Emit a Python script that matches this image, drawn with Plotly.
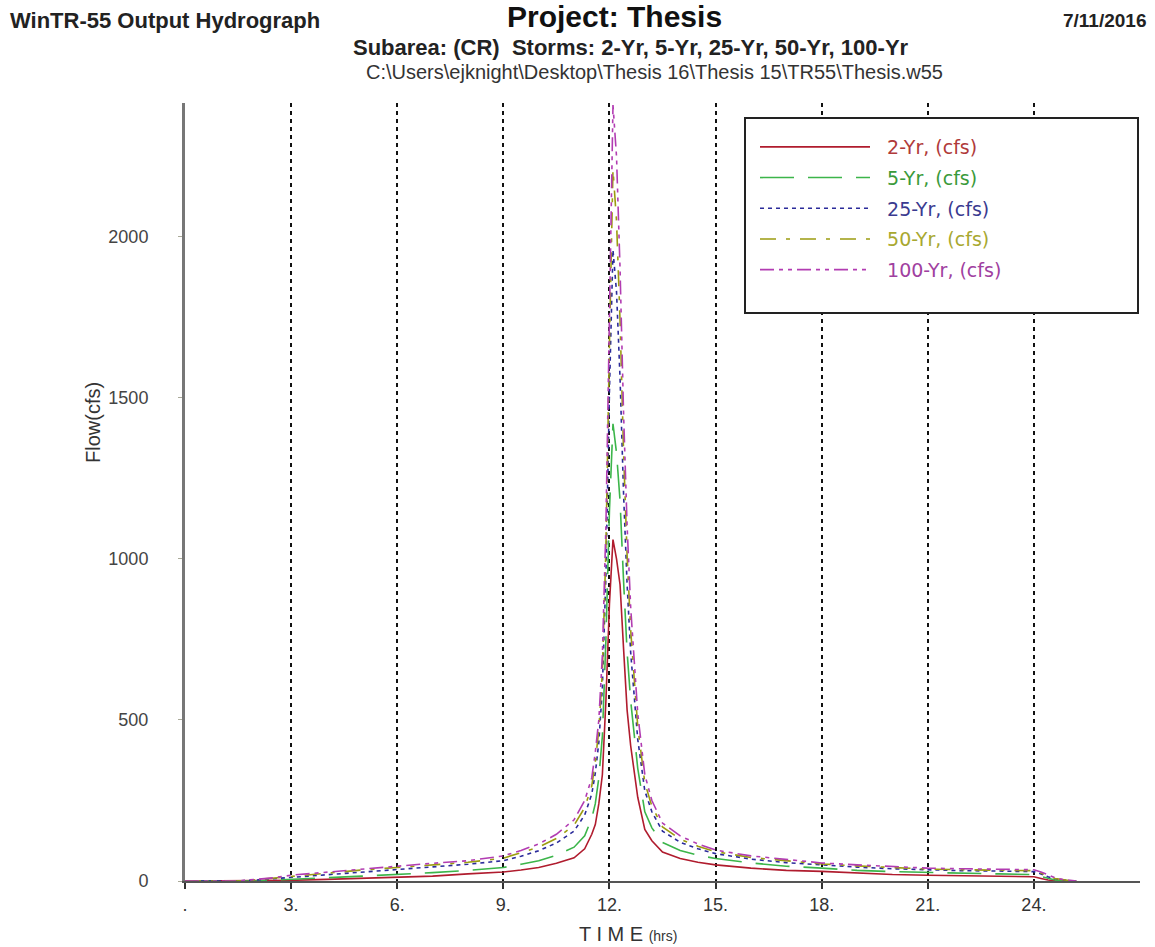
import plotly.graph_objects as go

# Hydrograph time ordinates (hrs)
time_hrs = [0.0, 1.0, 1.5, 2.0, 2.5, 3.0, 4.0, 5.0, 6.0, 7.0, 8.0, 9.0, 9.5, 10.0,
            10.5, 11.0, 11.3, 11.5, 11.6, 11.7, 11.8, 11.9, 12.0, 12.1, 12.2, 12.3,
            12.4, 12.5, 12.6, 12.8, 13.0, 13.2, 13.5, 14.0, 14.5, 15.0, 16.0, 17.0,
            18.0, 19.0, 20.0, 21.0, 22.0, 23.0, 24.0, 24.2, 24.4, 24.6, 24.8, 25.0, 25.2]

# Flow (cfs) for each storm
flow_2yr = [0, 0, 0, 0, 0, 2, 5, 8, 10, 15, 22, 28, 34, 42,
            55, 72, 100, 145, 175, 240, 330, 560, 860, 1060, 1000, 920,
            720, 530, 420, 260, 160, 125, 90, 70, 58, 50, 40, 33,
            30, 24, 20, 18, 17, 15, 13, 8, 3, 1, 0, 0, 0]
flow_5yr = [0, 0, 0, 0, 3, 6, 10, 15, 20, 26, 33, 42, 52, 63,
            80, 105, 140, 195, 240, 320, 450, 750, 1150, 1420, 1330, 1180,
            930, 710, 560, 350, 215, 165, 120, 95, 80, 70, 56, 46,
            40, 33, 29, 26, 24, 22, 20, 14, 7, 3, 1, 0, 0]
flow_25yr = [0, 0, 0, 3, 7, 13, 21, 29, 36, 44, 52, 63, 77, 94,
             118, 155, 205, 270, 335, 430, 600, 950, 1520, 1960, 1830, 1560,
             1200, 920, 710, 440, 280, 215, 155, 120, 100, 85, 68, 57,
             49, 43, 38, 34, 32, 31, 29, 22, 13, 7, 3, 1, 0]
flow_50yr = [0, 0, 0, 4, 9, 16, 25, 34, 42, 50, 58, 71, 87, 105,
             132, 173, 228, 295, 370, 470, 650, 1030, 1670, 2210, 2050, 1740,
             1330, 1010, 780, 480, 305, 232, 168, 130, 108, 91, 73, 62,
             53, 47, 42, 37, 35, 34, 32, 25, 15, 8, 4, 1, 0]
flow_100yr = [0, 0, 0, 5, 10, 18, 28, 38, 46, 55, 63, 78, 95, 115,
              145, 190, 250, 320, 400, 500, 700, 1100, 1800, 2410, 2250, 1900,
              1450, 1100, 850, 520, 330, 250, 180, 140, 115, 96, 78, 66,
              56, 50, 45, 40, 38, 37, 35, 28, 18, 10, 5, 2, 0]

storm_names = ["2-Yr, (cfs)", "5-Yr, (cfs)", "25-Yr, (cfs)", "50-Yr, (cfs)", "100-Yr, (cfs)"]
storm_flows = [flow_2yr, flow_5yr, flow_25yr, flow_50yr, flow_100yr]
line_colors = ["#b01c2e", "#3cb54a", "#2b2b9a", "#9c9c10", "#b23cb2"]
text_colors = ["#b03a3a", "#3a9a3a", "#3a3a90", "#a8a830", "#a040a0"]
line_dashes = ["solid", "34px,14px", "4px,4px", "16px,10px,4px,10px", "14px,5px,4px,5px,4px,5px"]

x_ticks = [0, 3, 6, 9, 12, 15, 18, 21, 24]
x_tick_text = [".", "3.", "6.", "9.", "12.", "15.", "18.", "21.", "24."]
y_ticks = [0, 500, 1000, 1500, 2000]

W, H = 1155, 947
L, R, T, B = 185, 1140, 103, 881


def px(x):
    return (x - L) / (R - L)


def py(y):
    return (B - y) / (B - T)


fig = go.Figure()
for i, (name, flow, lc, tc, dash) in enumerate(
        zip(storm_names, storm_flows, line_colors, text_colors, line_dashes)):
    fig.add_trace(go.Scatter(
        x=time_hrs, y=flow, mode="lines",
        name=f"\u00a0\u00a0<span style='color:{tc}'>{name}</span>",
        legendgroup=f"g{i}",
        line=dict(color=lc, width=1.6, dash=dash),
    ))

sans = "Liberation Sans, Arial, sans-serif"
annotations = [
    dict(text="<b>WinTR-55 Output Hydrograph</b>", x=px(8), y=py(20), xanchor="left",
         yanchor="middle", font=dict(size=22, color="#222", family=sans)),
    dict(text="<b>Project: Thesis</b>", x=px(614), y=py(17), xanchor="center",
         yanchor="middle", font=dict(size=30, color="#111", family=sans)),
    dict(text="<b>7/11/2016</b>", x=px(1148), y=py(20), xanchor="right",
         yanchor="middle", font=dict(size=19, color="#222", family=sans)),
    dict(text="<b>Subarea: (CR)  Storms: 2-Yr, 5-Yr, 25-Yr, 50-Yr, 100-Yr</b>", x=px(631),
         y=py(48), xanchor="center", yanchor="middle", font=dict(size=22, color="#222", family=sans)),
    dict(text="C:\\Users\\ejknight\\Desktop\\Thesis 16\\Thesis 15\\TR55\\Thesis.w55", x=px(654),
         y=py(72), xanchor="center", yanchor="middle", font=dict(size=20, color="#333", family=sans)),
    dict(text="Flow(cfs)", x=px(93), y=py(423), textangle=-90, xanchor="center",
         yanchor="middle", font=dict(size=20, color="#333", family=sans)),
    dict(text="T I M E <span style='font-size:14px'>(hrs)</span>", x=px(628), y=py(934),
         xanchor="center", yanchor="middle", font=dict(size=20, color="#333", family=sans)),
]
for a in annotations:
    a.update(xref="paper", yref="paper", showarrow=False)

fig.update_layout(
    width=W, height=H, autosize=False,
    margin=dict(l=L, r=W - R, t=T, b=H - B, pad=0),
    paper_bgcolor="white", plot_bgcolor="white",
    font=dict(family=sans, color="#333"),
    annotations=annotations,
    shapes=[dict(type="rect", xref="paper", yref="paper",
                 x0=px(745), x1=px(1138), y0=py(313), y1=py(118),
                 line=dict(color="#222", width=2), fillcolor="white", layer="above")],
    showlegend=True,
    legend=dict(
        x=px(755), y=py(128), xanchor="left", yanchor="top",
        bgcolor="rgba(0,0,0,0)", borderwidth=0,
        font=dict(family="DejaVu Sans, Verdana, sans-serif", size=19),
        itemwidth=110, tracegroupgap=3,
    ),
)

fig.update_xaxes(
    range=[0, 27], tickvals=x_ticks, ticktext=x_tick_text,
    showgrid=True, gridcolor="#111", griddash="4px,4px", gridwidth=1.5,
    showline=True, linecolor="#555", linewidth=2,
    ticks="outside", ticklen=6, tickcolor="#333", tickwidth=2,
    tickfont=dict(size=18, color="#333"),
    zeroline=False, fixedrange=True,
)
fig.update_yaxes(
    range=[0, 2416], tickvals=y_ticks,
    showgrid=False, showline=True, linecolor="#777", linewidth=3,
    ticks="outside", ticklen=4, tickcolor="#aa9", ticklabelstandoff=26,
    tickfont=dict(size=18, color="#444"),
    zeroline=False, fixedrange=True,
)

fig.write_html("out.html")
